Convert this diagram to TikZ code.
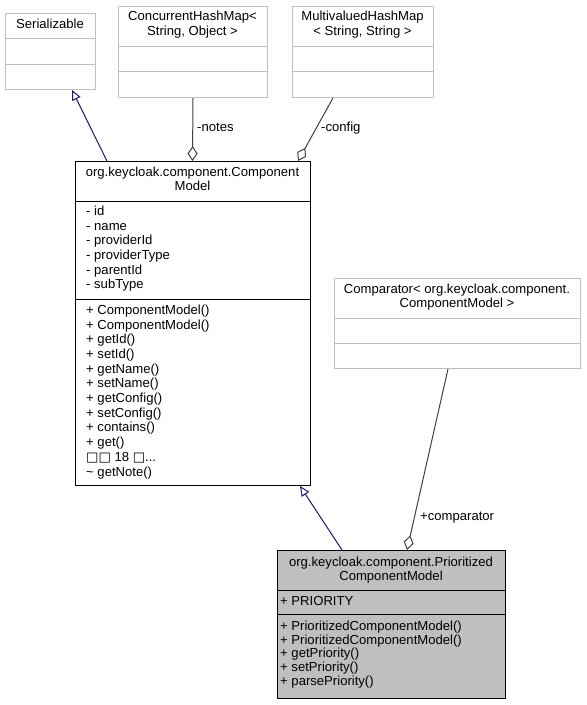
\documentclass[tikz,border=0pt]{standalone}
\usepackage{fontspec}
\setmainfont{Liberation Sans}
\newfontfamily\symfont{DejaVu Sans}
\usetikzlibrary{arrows.meta,calc}
\definecolor{edgegray}{HTML}{404040}
\definecolor{boxgray}{HTML}{BFBFBF}
\definecolor{navyline}{HTML}{191970}
\newcommand\moremembers{{\symfont □□} 18 {\symfont □}.\kern0pt.\kern0pt.}
\begin{document}
\begin{tikzpicture}[x=1pt,y=-1pt,
  txt/.style={inner sep=0pt, font=\fontsize{13.1}{15}\selectfont, text height=9.5pt, text depth=2.8pt},
  mem/.style={txt, anchor=west},
  clsbase/.style={rectangle, anchor=north west, inner sep=0pt, line width=1pt},
  graycls/.style={clsbase, draw=boxgray, fill=white},
  blackcls/.style={clsbase, draw=black, fill=white},
  focuscls/.style={clsbase, draw=black, fill=boxgray},
  graysep/.style={draw=boxgray, line width=1pt},
  blacksep/.style={draw=black, line width=1pt},
  inh/.style={draw=navyline, line width=1pt, -{Triangle[open, length=10pt, width=9pt]}},
  agg/.style={draw=edgegray, line width=1pt, {Diamond[open, length=15pt, width=10pt]}-},
]
\useasboundingbox[fill=white] (0,0) rectangle (587,705);

% Serializable
\node[graycls, minimum width=90pt, minimum height=76pt] (ser) at (5,13) {};
\draw[graysep] (5,38) -- (95,38);
\draw[graysep] (5,64) -- (95,64);
\node[txt] (sert) at (50,25) {Serializable};

% ConcurrentHashMap
\node[graycls, minimum width=149pt, minimum height=91pt] (chm) at (118,6) {};
\draw[graysep] (118,46) -- (267,46);
\draw[graysep] (118,71) -- (267,71);
\node[txt] (chmt1) at (192.5,17) {ConcurrentHashMap<};
\node[txt] (chmt2) at (192.5,32) {String, Object >};

% MultivaluedHashMap
\node[graycls, minimum width=141pt, minimum height=91pt] (mhm) at (292,6) {};
\draw[graysep] (292,46) -- (433,46);
\draw[graysep] (292,71) -- (433,71);
\node[txt] (mhmt1) at (362.5,17) {MultivaluedHashMap};
\node[txt] (mhmt2) at (362.5,32) {< String, String >};

% ComponentModel
\node[blackcls, minimum width=235pt, minimum height=324pt] (cm) at (75,161) {};
\draw[blacksep] (75,201) -- (310,201);
\draw[blacksep] (75,299) -- (310,299);
\node[txt] (cmt1) at (192.5,173) {org.keycloak.component.Component};
\node[txt] (cmt2) at (192.5,187) {Model};
\foreach \t [count=\i from 0] in {- id, - name, - providerId, - providerType, - parentId, - subType}
  \node[mem] (cma\i) at (86,212+14.7*\i) {\t};
\foreach \t [count=\i from 0] in {+ ComponentModel(), + ComponentModel(), + getId(), + setId(), + getName(), + setName(), + getConfig(), + setConfig(), + contains(), + get(), \moremembers, \textasciitilde{} getNote()}
  \node[mem] (cmm\i) at (86,311+14.7*\i) {\t};

% Comparator
\node[graycls, minimum width=246pt, minimum height=90pt] (cmp) at (334,278) {};
\draw[graysep] (334,318) -- (580,318);
\draw[graysep] (334,343) -- (580,343);
\node[txt] (cmpt1) at (457,290) {Comparator< org.keycloak.component.};
\node[txt] (cmpt2) at (457,304) {ComponentModel >};

% PrioritizedComponentModel
\node[focuscls, minimum width=228pt, minimum height=148pt] (pcm) at (277,550) {};
\draw[blacksep] (277,590) -- (505,590);
\draw[blacksep] (277,614) -- (505,614);
\node[txt] (pcmt1) at (391,563) {org.keycloak.component.Prioritized};
\node[txt] (pcmt2) at (391,577) {ComponentModel};
\node[mem] (pcma0) at (280,602) {+ PRIORITY};
\foreach \t [count=\i from 0] in {+ PrioritizedComponentModel(), + PrioritizedComponentModel(), + getPriority(), + setPriority(), + parsePriority()}
  \node[mem] (pcmm\i) at (280,627+13.7*\i) {\t};

% connectors
\draw[inh] ($(cm.north west)+(32,0)$) -- ($(ser.south west)+(67,0)$);
\draw[agg] ($(cm.north west)+(117.5,0)$) -- (chm.south);
\draw[agg] ($(cm.north west)+(223,0)$) -- ($(mhm.south west)+(41,0)$);
\draw[inh] ($(pcm.north west)+(65,0)$) -- ($(cm.south west)+(225,0)$);
\draw[agg] ($(pcm.north west)+(130,0)$) -- ($(cmp.south west)+(114,0)$);

% labels
\node[mem] (lnotes) at (197,128) {-notes};
\node[mem] (lconfig) at (321,128) {-config};
\node[mem] (lcomp) at (420,517) {+comparator};
\end{tikzpicture}
\end{document}
